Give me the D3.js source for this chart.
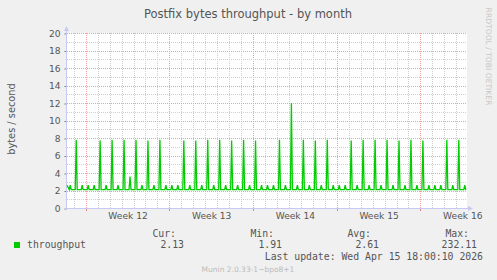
<!DOCTYPE html>
<html>
<head>
<meta charset="utf-8">
<script src="https://cdn.jsdelivr.net/npm/d3@7"></script>
<style>
body{margin:0;background:#f0f0f0;}
svg{display:block;}
</style>
</head>
<body>
<div id="chart"></div>
<script>
// munin postfix throughput, month view

var title = "Postfix bytes throughput - by month";
var yLabel = "bytes / second";
var weekLabels = ["Week 12", "Week 13", "Week 14", "Week 15", "Week 16"];
var yTicks = [0, 2, 4, 6, 8, 10, 12, 14, 16, 18, 20];

// time in hours, counted from monday 00:00 of week 12
var viewStart = -37.5, viewEnd = 765.5;
var firstValue = 2.6;
var baseValue = 2.1;
// one peak every 12 hours, the first at hour -31
var peakStart = -31, peakStep = 12;
var peakValues = [
    2.6, 7.8, 2.6, 2.6, 2.6, 7.7, 2.6, 7.8, 2.6, 7.8,
    3.6, 7.8, 2.6, 7.7, 2.6, 7.8, 2.6, 2.6, 2.6, 7.7,
    2.6, 7.7, 2.6, 7.8, 2.6, 7.8, 2.6, 7.7, 2.6, 7.8,
    2.6, 7.7, 2.6, 2.6, 2.6, 7.8, 2.6, 12.0, 2.6, 7.8,
    2.6, 7.7, 2.6, 7.8, 2.6, 2.6, 2.6, 7.7, 2.6, 7.8,
    2.6, 7.8, 2.6, 7.8, 2.6, 7.7, 2.6, 7.8, 2.6, 7.7,
    2.6, 2.6, 2.6, 7.8, 2.6, 7.8, 2.6
];
var lastHour = 764;

var seriesName = "throughput";
var statNames = ["Cur:", "Min:", "Avg:", "Max:"];
var statValues = ["2.13", "1.91", "2.61", "232.11"];
var lastUpdate = "Last update: Wed Apr 15 18:00:10 2026";
var footer = "Munin 2.0.33-1~bpo8+1";
var watermark = "RRDTOOL / TOBI OETIKER";

var svgWidth = 497, svgHeight = 280;
var plotLeft = 67, plotRight = 467, plotTop = 33, plotBottom = 208;

var svg = d3.select("#chart").append("svg")
    .attr("width", svgWidth)
    .attr("height", svgHeight);

svg.append("rect")
    .attr("width", svgWidth).attr("height", svgHeight)
    .attr("fill", "#f0f0f0");

var xScale = d3.scaleLinear()
    .domain([viewStart, viewEnd])
    .range([plotLeft, plotRight]);

var yScale = d3.scaleLinear()
    .domain([0, 20])
    .range([plotBottom, plotTop]);

svg.append("rect")
    .attr("x", plotLeft).attr("y", plotTop)
    .attr("width", plotRight - plotLeft).attr("height", plotBottom - plotTop)
    .attr("fill", "#ffffff");

var crisp = function(v){ return Math.round(v) + 0.5; };

// grid
var grid = svg.append("g");
for(var d = -24; d <= viewEnd; d += 24){
    var gx = crisp(xScale(d));
    var major = (d % 168 == 0);
    grid.append("line")
	.attr("x1", gx).attr("x2", gx)
	.attr("y1", plotTop).attr("y2", plotBottom)
	.attr("stroke", major ? "#eda0a0" : "#cfcfcf")
	.attr("stroke-dasharray", "1,1");
}
for(var v = 1; v <= 20; v++){
    var gy = crisp(yScale(v));
    grid.append("line")
	.attr("x1", plotLeft).attr("x2", plotRight)
	.attr("y1", gy).attr("y2", gy)
	.attr("stroke", v % 2 == 0 ? "#eda0a0" : "#cfcfcf")
	.attr("stroke-dasharray", "1,1");
}

// y axis
var yAxis = d3.axisLeft(yScale)
    .tickValues(yTicks)
    .tickSize(2)
    .tickPadding(4)
    .tickFormat(d3.format("d"));

var yg = svg.append("g")
    .attr("transform", "translate(" + (plotLeft - 0.5) + ",0.5)")
    .call(yAxis);
yg.select(".domain").remove();
yg.selectAll(".tick line").attr("stroke", "#777");
yg.selectAll("text")
    .attr("fill", "#555")
    .style("font", "9.1px 'DejaVu Sans'");

// x axis labels at mid week
var xAxis = d3.axisBottom(xScale)
    .tickValues(weekLabels.map(function(w, i){ return 84 + 168 * i; }))
    .tickSize(0)
    .tickPadding(5)
    .tickFormat(function(d, i){ return weekLabels[i]; });

var xg = svg.append("g")
    .attr("transform", "translate(0," + plotBottom + ")")
    .call(xAxis);
xg.select(".domain").remove();
xg.selectAll("text")
    .attr("fill", "#555")
    .style("font", "9.1px 'DejaVu Sans'");

// week ticks under axis
for(var w = 0; w <= viewEnd; w += 168){
    svg.append("line")
	.attr("x1", crisp(xScale(w))).attr("x2", crisp(xScale(w)))
	.attr("y1", plotBottom).attr("y2", plotBottom + 3)
	.attr("stroke", "#e08080");
}

// axis lines with arrows
var axisColor = "#c8c8f4";
svg.append("line")
    .attr("x1", plotLeft - 0.5).attr("x2", plotLeft - 0.5)
    .attr("y1", plotBottom + 2).attr("y2", plotTop - 4)
    .attr("stroke", axisColor);
svg.append("line")
    .attr("x1", plotLeft - 2).attr("x2", plotRight + 3)
    .attr("y1", plotBottom + 0.5).attr("y2", plotBottom + 0.5)
    .attr("stroke", axisColor);
svg.append("path")
    .attr("d", "M" + (plotLeft - 3) + "," + (plotTop - 2) + "L" + (plotLeft + 2) + "," + (plotTop - 2) + "L" + (plotLeft - 0.5) + "," + (plotTop - 7) + "Z")
    .attr("fill", axisColor);
svg.append("path")
    .attr("d", "M" + (plotRight + 1) + "," + (plotBottom - 2) + "L" + (plotRight + 1) + "," + (plotBottom + 3) + "L" + (plotRight + 6) + "," + (plotBottom + 0.5) + "Z")
    .attr("fill", axisColor);

// the series
var points = [[viewStart, firstValue]];
peakValues.forEach(function(p, i){
    var h = peakStart + i * peakStep;
    points.push([h - 2, baseValue], [h, p], [h + 2, baseValue]);
});
points.push([lastHour, baseValue]);

var line = d3.line()
    .x(function(d){ return xScale(d[0]); })
    .y(function(d){ return yScale(d[1]); });

svg.append("path")
    .datum(points)
    .attr("d", line)
    .attr("fill", "none")
    .attr("stroke", "#00cc00")
    .attr("stroke-width", 1.3);

// texts
svg.append("text")
    .attr("x", 248).attr("y", 18)
    .attr("text-anchor", "middle")
    .attr("fill", "#555")
    .style("font", "11.5px 'DejaVu Sans'")
    .text(title);

svg.append("text")
    .attr("transform", "translate(15,119) rotate(-90)")
    .attr("text-anchor", "middle")
    .attr("fill", "#555")
    .style("font", "9.8px 'DejaVu Sans'")
    .text(yLabel);

svg.append("text")
    .attr("transform", "translate(485.5,56.5) rotate(90)")
    .attr("text-anchor", "middle")
    .attr("fill", "#c8c8c8")
    .style("font", "7.6px 'DejaVu Sans'")
    .text(watermark);

// legend
svg.append("rect")
    .attr("x", 14).attr("y", 242)
    .attr("width", 6).attr("height", 6)
    .attr("fill", "#00cc00");

var mono = "9.8px 'DejaVu Sans Mono'";
svg.append("text")
    .attr("x", 27).attr("y", 248)
    .attr("fill", "#555")
    .style("font", mono)
    .text(seriesName);

var headEnds = [176, 274, 371, 469];
var valEnds = [184, 282, 379, 477];
statNames.forEach(function(s, i){
    svg.append("text")
	.attr("x", headEnds[i]).attr("y", 237)
	.attr("text-anchor", "end")
	.attr("fill", "#555")
	.style("font", mono)
	.text(s);
    svg.append("text")
	.attr("x", valEnds[i]).attr("y", 248)
	.attr("text-anchor", "end")
	.attr("fill", "#555")
	.style("font", mono)
	.text(statValues[i]);
});

svg.append("text")
    .attr("x", 483).attr("y", 260)
    .attr("text-anchor", "end")
    .attr("fill", "#555")
    .style("font", mono)
    .text(lastUpdate);

svg.append("text")
    .attr("x", 248).attr("y", 272)
    .attr("text-anchor", "middle")
    .attr("fill", "#bbbbbb")
    .style("font", "7.5px 'DejaVu Sans'")
    .text(footer);
</script>
</body>
</html>
